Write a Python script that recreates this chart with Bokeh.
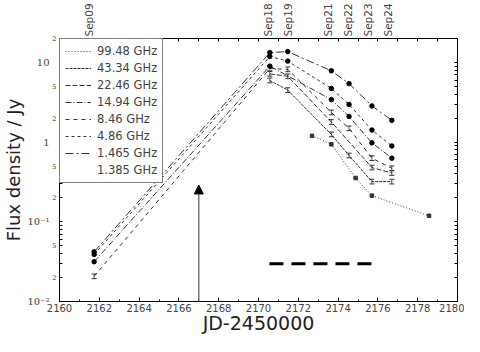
from bokeh.plotting import figure
from bokeh.models import (FixedTicker, LinearAxis, LogAxis, Arrow, NormalHead,
                          Whisker, ColumnDataSource, Legend, LegendItem, Range1d)
from bokeh.embed import file_html
from bokeh.resources import INLINE

# ---------------- data ----------------
labels = ["99.48 GHz", "43.34 GHz", "22.46 GHz", "14.94 GHz",
          "8.46 GHz", "4.86 GHz", "1.465 GHz", "1.385 GHz"]

jd_9948 = [2172.69, 2173.66, 2174.88, 2175.70, 2178.57]
f_9948 = [1.20, 0.94, 0.355, 0.213, 0.119]

jd_4334 = [2170.57, 2171.47, 2173.66, 2174.55, 2175.70, 2176.70]
f_4334 = [5.95, 4.5, 1.25, 0.68, 0.32, 0.32]

jd_2246 = [2170.57, 2171.47, 2173.66, 2175.70, 2176.70]
f_2246 = [7.2, 6.7, 1.79, 0.48, 0.41]

jd_1494 = [2161.74, 2170.57, 2173.66, 2174.55, 2175.70, 2176.70]
f_1494 = [0.0316, 9.0, 3.42, 2.10, 0.98, 0.63]

jd_846 = [2161.74, 2170.57, 2171.47, 2173.66, 2174.55, 2175.70, 2176.70]
f_846 = [0.0207, 8.4, 8.2, 2.36, 1.49, 0.63, 0.47]

jd_486 = [2161.74, 2170.57, 2171.47, 2173.66, 2174.55, 2175.70, 2176.70]
f_486 = [0.039, 11.9, 10.4, 4.73, 2.97, 1.42, 0.895]

jd_1465 = [2161.74, 2170.57, 2171.47, 2173.66, 2174.55, 2175.70, 2176.70]
f_1465 = [0.042, 13.3, 13.7, 7.86, 5.43, 2.85, 1.88]

jd_1385 = []
f_1385 = []

err_frac = 0.07

date_jd = [2161.5, 2170.5, 2171.5, 2173.5, 2174.5, 2175.5, 2176.5]
date_txt = ["Sep09", "Sep18", "Sep19", "Sep21", "Sep22", "Sep23", "Sep24"]

arrow_jd = 2167.0
arrow_top = 0.29

bar_jd = [2170.55, 2175.70]
bar_f = [0.0297, 0.0297]

x_major = list(range(2160, 2181, 2))
x_minor = list(range(2161, 2180, 2))
y_major = [0.01, 0.1, 1, 10]
y_major_txt = ["10\u207b\u00b2", "10\u207b\u00b9", "1", "10"]
y_small = [0.02, 0.05, 0.2, 0.5, 2, 5, 20]
y_small_txt = ["2", "5", "2", "5", "2", "5", "2"]
y_minor = [m * 10.0 ** e for e in (-2, -1, 0) for m in (3, 4, 6, 7, 8, 9)] + y_major

# ---------------- figure ----------------
p = figure(width=464, height=336, output_backend="svg", toolbar_location=None,
           x_range=Range1d(2160, 2180), y_range=Range1d(0.01, 20),
           y_axis_type="log", x_axis_location=None, y_axis_location=None,
           min_border_left=40, min_border_right=7, min_border_top=30, min_border_bottom=10)
p.xgrid.visible = False
p.ygrid.visible = False
p.outline_line_color = "black"
p.outline_line_width = 1
p.background_fill_color = "white"
p.border_fill_color = "white"

SANS = "DejaVu Sans"
SERIF = "DejaVu Serif"

# bottom axis
xb = LinearAxis(ticker=FixedTicker(ticks=x_major, minor_ticks=x_minor))
xb.major_tick_in = 4
xb.major_tick_out = 0
xb.minor_tick_in = 2
xb.minor_tick_out = 0
xb.major_label_text_font = SANS
xb.major_label_text_font_size = "10px"
xb.major_label_text_line_height = 1.0
xb.major_label_standoff = 2
xb.axis_label = "JD-2450000"
xb.axis_label_text_font = SANS
xb.axis_label_text_font_size = "19px"
xb.axis_label_text_line_height = 0.9
xb.axis_label_text_font_style = "normal"
xb.axis_label_standoff = -3
xb.axis_label_text_color = "#222222"
p.add_layout(xb, "below")

# top axis with date labels
xt = LinearAxis(ticker=FixedTicker(ticks=date_jd, minor_ticks=list(range(2160, 2181))))
xt.major_label_overrides = {d: t for d, t in zip(date_jd, date_txt)}
xt.major_label_orientation = "vertical"
xt.major_tick_in = 0
xt.major_tick_out = 0
xt.minor_tick_in = 3
xt.minor_tick_out = 0
xt.major_label_standoff = 2
xt.major_label_text_font = SANS
xt.major_label_text_font_size = "10.5px"
p.add_layout(xt, "above")

# inner left axis: ticks and the small "2"/"5" labels
yl_in = LogAxis(ticker=FixedTicker(ticks=y_small, minor_ticks=y_minor))
yl_in.major_label_overrides = {v: t for v, t in zip(y_small, y_small_txt)}
yl_in.major_tick_in = 3
yl_in.major_tick_out = 0
yl_in.minor_tick_in = 3
yl_in.minor_tick_out = 0
yl_in.major_label_text_font = SERIF
yl_in.major_label_text_font_size = "6.5px"
yl_in.major_label_text_color = "#333333"
yl_in.major_label_standoff = 3
p.add_layout(yl_in, "left")

# outer left axis: decade labels and title
yl = LogAxis(ticker=FixedTicker(ticks=y_major, minor_ticks=[]))
yl.major_label_overrides = {v: t for v, t in zip(y_major, y_major_txt)}
yl.major_tick_in = 0
yl.major_tick_out = 0
yl.axis_line_color = None
yl.major_label_text_font = SERIF
yl.major_label_text_font_size = "10px"
yl.major_label_standoff = 0
yl.axis_label = "Flux density / Jy"
yl.axis_label_text_font = SANS
yl.axis_label_text_font_size = "18px"
yl.axis_label_text_line_height = 0.9
yl.axis_label_text_font_style = "normal"
yl.axis_label_text_color = "#222222"
yl.axis_label_standoff = 0
p.add_layout(yl, "left")

# right axis (ticks only)
yr = LogAxis(ticker=FixedTicker(ticks=y_major, minor_ticks=y_minor + y_small))
yr.major_label_text_font_size = "1px"
yr.major_label_text_alpha = 0
yr.major_label_standoff = 0
yr.major_tick_in = 3
yr.major_tick_out = 0
yr.minor_tick_in = 3
yr.minor_tick_out = 0
yr.axis_line_color = None
p.add_layout(yr, "right")

# ---------------- series ----------------
series = [
    (jd_9948, f_9948, "1 2", "sq"),
    (jd_4334, f_4334, "3 1", "err"),
    (jd_2246, f_2246, "5 2", "err"),
    (jd_1494, f_1494, "6 2 1 2", "dot"),
    (jd_846, f_846, "4 4", "err"),
    (jd_486, f_486, "3 3", "dot"),
    (jd_1465, f_1465, "8 3 2 3", "dot"),
    (jd_1385, f_1385, "1 3", "none"),
]

items = []
for (xs, ys, dash, mk), lab in zip(series, labels):
    src = ColumnDataSource(dict(x=xs, y=ys,
                                lo=[v / (1 + err_frac) for v in ys],
                                hi=[v * (1 + err_frac) for v in ys]))
    r = p.line("x", "y", source=src, line_color="black", line_width=0.8, line_dash=dash)
    if mk == "dot":
        p.scatter("x", "y", source=src, size=4.5, color="black")
    elif mk == "err":
        w = Whisker(base="x", lower="lo", upper="hi", source=src, dimension="height",
                    line_color="#333333", line_width=0.8)
        w.upper_head.size = 5
        w.lower_head.size = 5
        w.upper_head.line_color = "#333333"
        w.lower_head.line_color = "#333333"
        p.add_layout(w)
    elif mk == "sq":
        p.scatter("x", "y", source=src, size=3.5, color="#333333", marker="square")
    items.append(LegendItem(label=lab, renderers=[r]))

# arrow and thick dashed bar
p.add_layout(Arrow(end=NormalHead(size=9, fill_color="black", line_color="black"),
                   x_start=arrow_jd, y_start=0.01, x_end=arrow_jd, y_end=arrow_top,
                   line_color="#555555", line_width=1.2))
p.line(bar_jd, bar_f, line_color="black", line_width=3, line_dash="14 8")

leg = Legend(items=items, location="top_left", margin=0, padding=5, spacing=3,
             label_height=14, glyph_height=14, glyph_width=26, label_standoff=6,
             label_text_font=SANS, label_text_font_size="11.5px",
             border_line_color="black", border_line_width=1,
             background_fill_alpha=1.0)
p.add_layout(leg)

open("out.html", "w").write(file_html(p, INLINE))
